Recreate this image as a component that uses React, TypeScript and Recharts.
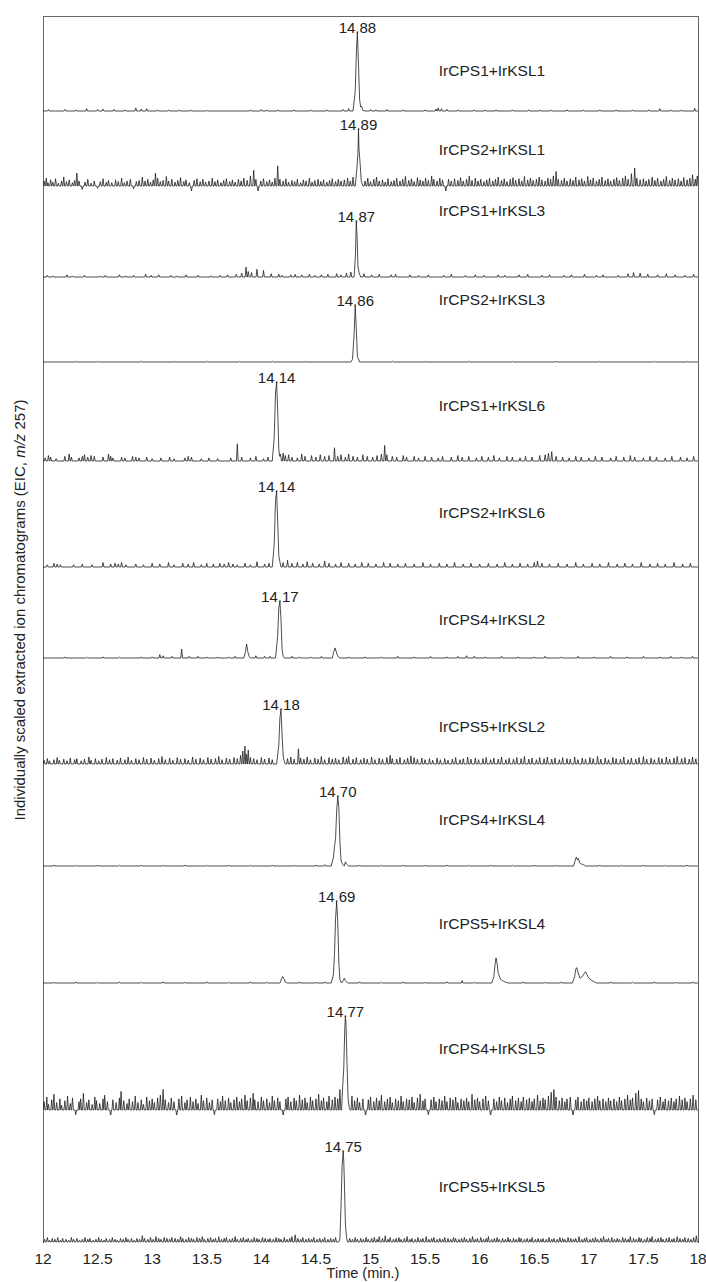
import React from "react";
import { LineChart, Line, XAxis, YAxis, ReferenceDot } from "recharts";

// ---- data (time in min, intensity in % of the labelled peak) ----
const PANEL_NAMES = [
  "IrCPS1+IrKSL1", "IrCPS2+IrKSL1", "IrCPS1+IrKSL3", "IrCPS2+IrKSL3",
  "IrCPS1+IrKSL6", "IrCPS2+IrKSL6", "IrCPS4+IrKSL2", "IrCPS5+IrKSL2",
  "IrCPS4+IrKSL4", "IrCPS5+IrKSL4", "IrCPS4+IrKSL5", "IrCPS5+IrKSL5",
];
const PEAK_TIMES = [14.88, 14.89, 14.87, 14.86, 14.14, 14.14, 14.17, 14.18, 14.7, 14.69, 14.77, 14.75];
const PEAK_LABELS = ["14.88", "14.89", "14.87", "14.86", "14.14", "14.14", "14.17", "14.18", "14.70", "14.69", "14.77", "14.75"];
const TIME_TICKS = [12, 12.5, 13, 13.5, 14, 14.5, 15, 15.5, 16, 16.5, 17, 17.5, 18];

// peak profiles [time, intensity]
const profile1 = [[14.84, 0], [14.86, 25], [14.872, 80], [14.88, 100], [14.89, 60], [14.9, 15], [14.91, 5], [14.92, 6], [14.93, 1], [14.95, 0]];
const profile2 = [[14.86, 0], [14.875, 30], [14.885, 60], [14.89, 100], [14.895, 65], [14.905, 40], [14.915, 10], [14.93, 0]];
const profile3 = [[14.85, 0], [14.862, 40], [14.87, 100], [14.878, 70], [14.885, 20], [14.895, 8], [14.91, 0]];
const profile4 = [[14.82, 0], [14.835, 5], [14.85, 50], [14.86, 100], [14.87, 60], [14.88, 10], [14.9, 0]];
const profile5 = [[14.1, 0], [14.118, 30], [14.13, 88], [14.14, 100], [14.15, 65], [14.16, 15], [14.168, 6], [14.175, 9], [14.185, 0]];
const profile6 = [[14.1, 0], [14.118, 30], [14.13, 90], [14.14, 100], [14.15, 60], [14.16, 15], [14.17, 7], [14.18, 0]];
const profile7 = [
  [13.84, 0], [13.855, 12], [13.865, 25], [13.875, 12], [13.89, 2], [13.9, 0],
  [14.13, 0], [14.15, 40], [14.16, 90], [14.17, 100], [14.18, 70], [14.19, 15], [14.2, 3], [14.21, 0],
  [14.65, 0], [14.665, 12], [14.675, 18], [14.685, 12], [14.695, 6], [14.705, 2], [14.72, 0],
];
const profile8 = [[14.14, 0], [14.16, 35], [14.17, 85], [14.18, 100], [14.19, 55], [14.2, 15], [14.21, 5], [14.22, 0]];
const profile9 = [
  [14.64, 0], [14.66, 12], [14.67, 28], [14.68, 40], [14.69, 80], [14.7, 100], [14.71, 85], [14.72, 35], [14.73, 8], [14.745, 2], [14.76, 0], [14.77, 6], [14.78, 3], [14.8, 0],
  [16.86, 0], [16.875, 8], [16.885, 13], [16.895, 9], [16.905, 11], [16.915, 5], [16.93, 3], [16.95, 2], [16.97, 0],
];
const profile10 = [
  [14.17, 0], [14.185, 5], [14.195, 8], [14.205, 6], [14.22, 1], [14.24, 0],
  [14.64, 0], [14.66, 10], [14.67, 35], [14.68, 80], [14.69, 100], [14.7, 75], [14.71, 25], [14.72, 4], [14.735, 0], [14.75, 3], [14.76, 6], [14.77, 3], [14.79, 0],
  [16.11, 0], [16.13, 8], [16.14, 22], [16.15, 31], [16.16, 24], [16.17, 12], [16.19, 5], [16.22, 2], [16.26, 0],
  [16.85, 0], [16.87, 8], [16.88, 17], [16.89, 19], [16.9, 13], [16.92, 6], [16.94, 8], [16.96, 12], [16.97, 14], [16.98, 11], [17.0, 6], [17.03, 3], [17.07, 0],
];
const profile11 = [[14.735, 0], [14.745, 25], [14.755, 45], [14.765, 90], [14.77, 100], [14.775, 95], [14.785, 50], [14.795, 12], [14.805, 3], [14.815, 0]];
const profile12 = [[14.71, 0], [14.72, 4], [14.73, 40], [14.74, 85], [14.75, 100], [14.755, 90], [14.76, 70], [14.77, 20], [14.78, 5], [14.79, 0]];

// baseline noise spikes [time, intensity]
const noise1 = [[12.05, 2], [12.2, 2], [12.3, 1.5], [12.4, 3], [12.5, 2], [12.55, 2.5], [12.65, 2], [12.75, 1.5], [12.85, 4], [12.9, 2.5], [12.95, 3], [13.05, 1.5], [13.15, 1.5], [13.25, 1.5], [13.35, 1.5], [13.5, 1], [13.9, 1.5], [14.0, 2], [14.05, 1.5], [14.15, 1.5], [14.3, 1.5], [14.45, 1.5], [14.6, 1.5], [14.75, 2], [14.8, 3], [15.0, 2], [15.05, 1.5], [15.15, 2], [15.3, 1.5], [15.5, 1.5], [15.6, 2.5], [15.62, 4], [15.65, 3], [15.7, 2], [15.8, 1.5], [15.95, 1.5], [16.05, 1.5], [16.15, 1.5], [16.3, 1.5], [16.45, 1.5], [16.55, 1.5], [16.65, 1.5], [16.8, 1.5], [16.95, 1.5], [17.1, 1.5], [17.25, 1.5], [17.4, 1.5], [17.55, 1.5], [17.65, 3], [17.75, 1.5], [17.85, 1.5], [17.97, 3.5]];
const noise2 = [[12.01, 9], [12.03, 14], [12.045, 6], [12.07, 11], [12.09, 7], [12.115, 13], [12.14, 5], [12.17, 9], [12.19, 16], [12.215, 8], [12.24, 11], [12.27, 6], [12.29, 10], [12.31, 23], [12.33, 9], [12.36, -6], [12.385, 7], [12.41, 12], [12.44, 5], [12.47, 9], [12.5, -4], [12.525, 8], [12.55, 13], [12.58, 7], [12.6, 10], [12.63, 6], [12.665, 11], [12.69, 8], [12.72, 14], [12.745, 6], [12.77, 9], [12.8, 12], [12.83, -5], [12.855, 8], [12.88, 10], [12.91, 16], [12.935, 9], [12.96, 12], [12.985, 7], [13.01, 11], [13.03, 23], [13.05, 14], [13.075, 8], [13.1, 10], [13.13, 17], [13.15, 9], [13.18, 12], [13.21, 7], [13.235, 10], [13.26, 15], [13.29, 8], [13.31, 11], [13.34, 6], [13.36, -9], [13.385, 10], [13.41, 13], [13.44, 8], [13.465, 12], [13.49, 7], [13.52, 9], [13.55, 14], [13.575, 8], [13.6, 11], [13.63, 6], [13.655, 10], [13.68, 13], [13.71, 8], [13.735, 11], [13.76, 7], [13.79, 12], [13.815, 9], [13.84, 14], [13.87, 10], [13.9, 18], [13.93, 28], [13.95, 12], [13.97, -11], [13.995, 9], [14.02, 13], [14.05, 8], [14.075, 11], [14.1, 7], [14.125, 14], [14.15, 36], [14.17, 12], [14.2, 9], [14.225, 13], [14.25, 7], [14.28, 10], [14.305, 8], [14.33, 12], [14.36, 6], [14.385, 11], [14.41, 9], [14.44, 14], [14.465, 7], [14.49, 10], [14.52, 12], [14.545, 8], [14.57, 11], [14.6, 7], [14.625, 10], [14.65, 13], [14.68, 8], [14.705, 12], [14.73, 9], [14.76, 11], [14.79, 14], [14.815, 9], [14.84, 16], [14.95, 9], [14.975, 14], [15.0, 8], [15.03, 12], [15.055, 16], [15.08, 9], [15.11, 11], [15.135, 7], [15.16, 13], [15.19, 8], [15.215, 10], [15.24, 14], [15.27, 9], [15.295, 12], [15.32, 17], [15.35, 10], [15.375, 13], [15.4, 8], [15.43, 15], [15.455, 11], [15.48, 9], [15.505, 14], [15.53, 10], [15.56, 18], [15.58, 12], [15.61, 9], [15.635, 14], [15.66, 11], [15.69, -9], [15.715, 12], [15.74, 9], [15.77, 13], [15.8, 10], [15.825, 15], [15.85, 9], [15.88, 12], [15.905, 18], [15.93, 10], [15.96, 14], [15.985, 9], [16.01, 12], [16.04, 8], [16.065, 11], [16.09, 14], [16.12, 9], [16.145, 12], [16.17, 16], [16.2, 10], [16.225, 13], [16.25, 8], [16.28, 12], [16.305, 15], [16.33, 10], [16.36, 13], [16.385, 9], [16.41, 17], [16.44, 11], [16.465, 14], [16.49, 10], [16.52, 12], [16.545, 16], [16.57, 11], [16.6, 9], [16.625, 14], [16.65, 12], [16.675, 18], [16.7, 26], [16.72, 12], [16.75, 10], [16.775, 14], [16.8, 9], [16.83, 13], [16.855, 10], [16.88, 16], [16.91, 11], [16.935, 13], [16.96, 9], [16.99, 17], [17.015, 11], [17.04, 14], [17.07, 9], [17.095, 12], [17.12, 16], [17.15, 10], [17.175, 13], [17.2, 9], [17.23, 12], [17.255, 15], [17.28, 10], [17.31, 14], [17.335, 18], [17.36, 12], [17.39, 22], [17.42, 32], [17.44, 14], [17.47, 11], [17.5, 13], [17.525, 9], [17.55, 12], [17.58, 16], [17.605, 10], [17.63, 14], [17.66, 9], [17.685, 12], [17.71, 17], [17.74, 10], [17.765, 14], [17.79, 11], [17.82, 13], [17.845, 9], [17.87, 15], [17.9, 11], [17.925, 14], [17.95, 20], [17.975, 12], [17.993, 18]];
const noise3 = [[12.04, 3], [12.09, 2], [12.22, 4], [12.27, 2], [12.38, 3], [12.52, 2], [12.57, 3], [12.7, 4], [12.76, 2], [12.83, 3], [12.94, 5], [12.99, 3], [13.06, 4], [13.17, 3], [13.23, 2], [13.31, 4], [13.42, 3], [13.54, 2], [13.62, 3], [13.69, 4], [13.77, 5], [13.82, 7], [13.86, 18], [13.88, 10], [13.91, 8], [13.96, 14], [14.02, 12], [14.09, 6], [14.16, 5], [14.19, 3], [14.27, 4], [14.31, 5], [14.37, 4], [14.44, 5], [14.49, 3], [14.55, 4], [14.61, 5], [14.69, 6], [14.73, 4], [14.78, 7], [14.82, 9], [14.94, 6], [15.01, 4], [15.08, 5], [15.19, 4], [15.23, 5], [15.36, 4], [15.44, 3], [15.53, 4], [15.67, 3], [15.74, 5], [15.87, 3], [15.96, 4], [16.04, 3], [16.17, 4], [16.23, 3], [16.36, 4], [16.44, 5], [16.57, 3], [16.64, 4], [16.77, 3], [16.84, 4], [16.96, 5], [17.07, 3], [17.13, 4], [17.27, 3], [17.36, 6], [17.41, 8], [17.47, 7], [17.54, 5], [17.63, 4], [17.71, 6], [17.79, 4], [17.88, 3], [17.96, 5]];
const noise4 = [[12.3, 1.5], [12.5, 1], [12.9, 1.5], [13.2, 1], [13.5, 1.5], [13.8, 1], [14.1, 1.5], [14.4, 1], [15.2, 1.5], [15.5, 1], [15.9, 1.5], [16.3, 1], [16.7, 1.5], [17.1, 1], [17.6, 1.5], [17.9, 1]];
const noise5 = [[12.02, 4], [12.05, 7], [12.07, 5], [12.12, 3], [12.2, 6], [12.24, 9], [12.26, 5], [12.33, 4], [12.36, 6], [12.38, 8], [12.41, 5], [12.44, 7], [12.47, 6], [12.55, 5], [12.6, 9], [12.62, 6], [12.64, 4], [12.72, 5], [12.75, 4], [12.82, 6], [12.85, 5], [12.88, 4], [12.95, 5], [13.0, 3], [13.08, 4], [13.16, 5], [13.2, 3], [13.3, 4], [13.33, 6], [13.36, 5], [13.45, 3], [13.52, 4], [13.6, 3], [13.72, 4], [13.78, 22], [13.82, 5], [13.9, 4], [13.95, 6], [14.02, 3], [14.06, 5], [14.2, 10], [14.22, 7], [14.25, 8], [14.28, 5], [14.33, 4], [14.37, 9], [14.4, 6], [14.46, 7], [14.5, 5], [14.54, 8], [14.58, 6], [14.62, 7], [14.67, 17], [14.7, 6], [14.73, 8], [14.77, 5], [14.8, 9], [14.84, 6], [14.88, 5], [14.93, 8], [14.97, 6], [15.02, 5], [15.06, 7], [15.1, 9], [15.13, 20], [15.15, 8], [15.2, 6], [15.24, 5], [15.3, 7], [15.33, 5], [15.4, 6], [15.44, 4], [15.5, 6], [15.56, 5], [15.62, 4], [15.66, 6], [15.74, 5], [15.8, 7], [15.84, 5], [15.9, 6], [15.97, 4], [16.02, 6], [16.08, 5], [16.13, 7], [16.18, 4], [16.25, 6], [16.3, 5], [16.37, 4], [16.42, 6], [16.48, 5], [16.55, 7], [16.6, 8], [16.63, 10], [16.66, 12], [16.7, 6], [16.76, 5], [16.82, 4], [16.88, 6], [16.93, 5], [17.0, 4], [17.06, 6], [17.12, 5], [17.2, 4], [17.25, 6], [17.32, 5], [17.38, 7], [17.42, 5], [17.5, 4], [17.56, 6], [17.62, 5], [17.7, 4], [17.76, 6], [17.84, 5], [17.9, 4], [17.96, 6]];
const noise6 = [[12.04, 3], [12.1, 5], [12.13, 4], [12.16, 3], [12.28, 3], [12.36, 4], [12.45, 3], [12.55, 6], [12.62, 4], [12.66, 5], [12.69, 4], [12.72, 6], [12.76, 3], [12.85, 4], [12.92, 3], [13.0, 5], [13.07, 4], [13.15, 6], [13.2, 3], [13.28, 5], [13.33, 4], [13.38, 6], [13.45, 3], [13.5, 5], [13.56, 4], [13.62, 5], [13.66, 4], [13.7, 6], [13.74, 4], [13.78, 3], [13.85, 5], [13.9, 3], [13.96, 7], [14.03, 4], [14.07, 5], [14.2, 6], [14.24, 9], [14.28, 5], [14.33, 6], [14.38, 4], [14.42, 7], [14.47, 5], [14.53, 4], [14.58, 8], [14.62, 5], [14.68, 4], [14.73, 6], [14.8, 5], [14.86, 4], [14.92, 6], [14.98, 5], [15.05, 4], [15.12, 6], [15.18, 5], [15.25, 4], [15.32, 5], [15.4, 4], [15.48, 6], [15.55, 4], [15.63, 5], [15.7, 4], [15.77, 6], [15.85, 4], [15.92, 5], [16.0, 4], [16.08, 5], [16.16, 4], [16.23, 6], [16.3, 4], [16.37, 5], [16.44, 4], [16.5, 6], [16.53, 8], [16.57, 5], [16.64, 4], [16.72, 5], [16.8, 4], [16.88, 6], [16.95, 4], [17.03, 5], [17.1, 4], [17.18, 6], [17.26, 4], [17.33, 5], [17.4, 4], [17.48, 6], [17.56, 4], [17.63, 5], [17.7, 4], [17.78, 6], [17.86, 4], [17.93, 5]];
const noise7 = [[12.2, 2], [12.4, 1.5], [12.55, 2], [12.7, 1.5], [12.9, 2], [13.0, 2], [13.07, 6], [13.1, 4], [13.18, 3], [13.27, 16], [13.34, 3], [13.42, 3], [13.5, 2], [13.6, 2], [13.7, 2], [13.76, 3], [13.95, 4], [14.03, 3], [14.08, 3], [14.28, 3], [14.35, 2], [14.45, 2], [14.55, 3], [14.8, 2], [14.95, 2], [15.1, 2], [15.25, 3], [15.4, 2], [15.55, 3], [15.7, 2], [15.8, 3], [15.88, 4], [15.95, 3], [16.05, 2], [16.2, 3], [16.35, 2], [16.5, 2], [16.6, 3], [16.75, 2], [16.9, 3], [17.05, 2], [17.2, 3], [17.35, 2], [17.5, 3], [17.65, 2], [17.75, 3], [17.85, 2], [17.95, 3]];
const noise8 = [[12.01, 7], [12.04, 10], [12.06, 6], [12.1, 8], [12.13, 12], [12.15, 7], [12.19, 9], [12.22, 6], [12.25, 11], [12.29, 8], [12.31, 10], [12.35, 6], [12.38, 9], [12.42, 13], [12.44, 7], [12.48, 10], [12.51, 6], [12.54, 9], [12.58, 12], [12.61, 8], [12.64, 10], [12.68, 7], [12.71, 11], [12.75, 8], [12.78, 13], [12.81, 7], [12.85, 10], [12.88, 8], [12.92, 12], [12.95, 9], [12.99, 11], [13.02, 7], [13.06, 10], [13.09, 14], [13.12, 8], [13.16, 11], [13.19, 7], [13.23, 12], [13.26, 9], [13.3, 10], [13.33, 7], [13.37, 13], [13.4, 9], [13.44, 11], [13.47, 8], [13.51, 12], [13.54, 9], [13.58, 10], [13.61, 14], [13.64, 8], [13.68, 11], [13.71, 9], [13.75, 12], [13.78, 10], [13.81, 16], [13.83, 24], [13.85, 33], [13.865, 18], [13.88, 26], [13.9, 12], [13.93, 10], [13.96, 8], [14.0, 12], [14.03, 9], [14.07, 11], [14.1, 8], [14.24, 10], [14.27, 13], [14.3, 9], [14.34, 28], [14.36, 11], [14.39, 9], [14.42, 13], [14.45, 8], [14.49, 11], [14.52, 9], [14.55, 14], [14.58, 8], [14.62, 12], [14.65, 9], [14.68, 11], [14.71, 8], [14.75, 13], [14.78, 10], [14.8, 14], [14.84, 9], [14.87, 12], [14.91, 8], [14.94, 11], [14.97, 9], [15.01, 13], [15.04, 8], [15.08, 11], [15.11, 9], [15.15, 12], [15.18, 16], [15.2, 10], [15.24, 9], [15.27, 12], [15.31, 8], [15.34, 11], [15.37, 15], [15.4, 12], [15.43, 9], [15.47, 11], [15.5, 8], [15.54, 10], [15.57, 7], [15.61, 11], [15.64, 8], [15.68, 10], [15.71, 7], [15.75, 9], [15.78, 12], [15.82, 8], [15.85, 10], [15.89, 13], [15.92, 9], [15.96, 11], [15.99, 8], [16.03, 10], [16.06, 12], [16.1, 8], [16.13, 11], [16.17, 9], [16.2, 13], [16.24, 8], [16.27, 11], [16.31, 9], [16.34, 12], [16.38, 10], [16.41, 14], [16.45, 9], [16.48, 11], [16.52, 8], [16.55, 12], [16.59, 10], [16.62, 13], [16.66, 9], [16.69, 11], [16.73, 8], [16.76, 12], [16.8, 10], [16.83, 9], [16.87, 13], [16.9, 8], [16.94, 11], [16.97, 9], [17.01, 12], [17.04, 10], [17.08, 14], [17.11, 9], [17.15, 11], [17.18, 8], [17.22, 12], [17.25, 10], [17.29, 9], [17.32, 13], [17.36, 8], [17.39, 11], [17.43, 9], [17.46, 12], [17.5, 14], [17.53, 9], [17.57, 11], [17.6, 8], [17.64, 12], [17.67, 10], [17.71, 13], [17.74, 9], [17.78, 11], [17.81, 14], [17.85, 10], [17.88, 12], [17.92, 9], [17.95, 13], [17.98, 10]];
const noise9 = [[12.1, 1.5], [12.3, 1], [12.5, 1.5], [12.7, 1], [12.9, 1.5], [13.1, 1], [13.3, 1.5], [13.5, 1], [13.7, 1.5], [13.9, 1], [14.1, 1.5], [14.3, 1], [14.5, 1.5], [14.58, 2], [14.9, 1.5], [15.1, 1], [15.3, 1.5], [15.5, 1], [15.7, 1.5], [15.9, 1], [16.1, 1.5], [16.3, 1], [16.5, 1.5], [16.7, 1], [17.1, 1.5], [17.3, 1], [17.5, 1.5], [17.7, 1], [17.9, 1.5]];
const noise10 = [[12.1, 1], [12.3, 1.5], [12.5, 1], [12.7, 1.5], [12.9, 1], [13.1, 1.5], [13.3, 1], [13.5, 1.5], [13.7, 1], [13.9, 1.5], [14.05, 1], [14.35, 1.5], [14.5, 1], [14.58, 1.5], [14.9, 1.5], [15.1, 1], [15.3, 1.5], [15.5, 1], [15.7, 1.5], [15.84, 3], [15.95, 1], [16.4, 1.5], [16.6, 1], [16.75, 1.5], [17.2, 1.5], [17.4, 1], [17.6, 1.5], [17.8, 1], [17.95, 1.5]];
const noise11 = [[12.01, 9], [12.035, 14], [12.05, 6], [12.08, 11], [12.1, 17], [12.125, 8], [12.155, 12], [12.17, 5], [12.2, 10], [12.225, 15], [12.25, 7], [12.27, 13], [12.3, -5], [12.33, 9], [12.345, 12], [12.37, 18], [12.4, 8], [12.42, 11], [12.45, 6], [12.475, 14], [12.49, 10], [12.52, 7], [12.55, 12], [12.565, 16], [12.59, 9], [12.62, -6], [12.64, 11], [12.67, 8], [12.7, 13], [12.715, 20], [12.74, 10], [12.77, 7], [12.79, 12], [12.82, 9], [12.845, 15], [12.87, 8], [12.9, 11], [12.92, 6], [12.95, 14], [12.975, 10], [13.0, 12], [13.02, 8], [13.05, 13], [13.075, 16], [13.1, 22], [13.12, 11], [13.15, 8], [13.175, 13], [13.2, 9], [13.225, -6], [13.245, 12], [13.27, 15], [13.3, 8], [13.32, 11], [13.35, 14], [13.375, 9], [13.4, 12], [13.42, 7], [13.45, 16], [13.47, 10], [13.5, 13], [13.525, 8], [13.55, 11], [13.57, -5], [13.6, 12], [13.625, 9], [13.645, 15], [13.67, 10], [13.7, 13], [13.72, 8], [13.75, 11], [13.775, 14], [13.8, 9], [13.82, 12], [13.85, 16], [13.87, 10], [13.9, 13], [13.925, 18], [13.94, 11], [13.97, 9], [14.0, 14], [14.02, 10], [14.05, 12], [14.075, 8], [14.1, 15], [14.12, 10], [14.15, 13], [14.17, 9], [14.2, -6], [14.225, 12], [14.245, 14], [14.27, 9], [14.3, 13], [14.32, 10], [14.35, 16], [14.375, 11], [14.4, 13], [14.42, 8], [14.45, 14], [14.47, 10], [14.5, 12], [14.525, 17], [14.55, 10], [14.57, 13], [14.6, 9], [14.62, 15], [14.65, 11], [14.675, 14], [14.7, 12], [14.72, 22], [14.83, 15], [14.855, 10], [14.88, 13], [14.9, 8], [14.93, 12], [14.955, -6], [14.98, 11], [15.0, 14], [15.03, 9], [15.055, 13], [15.08, 10], [15.1, 16], [15.13, 9], [15.155, 12], [15.18, 14], [15.2, 8], [15.23, 12], [15.255, 10], [15.28, 15], [15.3, 9], [15.33, 12], [15.355, 11], [15.38, 14], [15.4, 8], [15.43, 13], [15.455, 17], [15.48, 10], [15.5, 12], [15.53, -5], [15.555, 11], [15.58, 14], [15.6, 9], [15.63, 12], [15.655, 10], [15.68, 15], [15.7, 9], [15.73, 13], [15.755, 11], [15.78, 14], [15.8, 8], [15.83, 12], [15.855, 10], [15.88, 13], [15.9, 9], [15.93, 17], [15.955, 11], [15.98, 13], [16.0, 9], [16.03, 12], [16.055, 15], [16.08, 10], [16.1, -6], [16.13, 12], [16.155, 9], [16.18, 14], [16.2, 10], [16.23, 13], [16.255, 8], [16.28, 12], [16.3, 15], [16.33, 10], [16.355, 13], [16.38, 9], [16.4, 14], [16.43, 11], [16.455, 13], [16.48, 9], [16.5, 12], [16.53, 16], [16.555, 10], [16.58, 13], [16.6, 11], [16.63, 15], [16.655, 19], [16.68, 22], [16.7, 14], [16.73, 10], [16.755, 13], [16.78, 9], [16.8, 12], [16.83, 14], [16.855, -6], [16.88, 11], [16.9, 14], [16.93, 9], [16.955, 12], [16.98, 10], [17.0, 13], [17.03, 9], [17.055, 12], [17.08, 15], [17.1, 10], [17.13, 12], [17.155, 9], [17.18, 13], [17.2, 10], [17.23, 12], [17.255, 9], [17.28, 14], [17.3, 10], [17.33, 12], [17.355, 16], [17.38, 11], [17.4, 13], [17.43, 18], [17.455, 21], [17.48, 12], [17.5, 9], [17.53, 13], [17.555, 10], [17.58, 12], [17.6, -5], [17.63, 11], [17.655, 14], [17.68, 9], [17.7, 12], [17.73, 10], [17.755, 13], [17.78, 9], [17.8, 12], [17.83, 15], [17.855, 11], [17.88, 13], [17.9, 9], [17.93, 12], [17.955, 16], [17.98, 11]];
const noise12 = [[12.015, 3], [12.04, 5], [12.06, 2], [12.085, 4], [12.11, 3], [12.135, 5], [12.16, 2], [12.18, 4], [12.21, 3], [12.235, 2], [12.26, 5], [12.28, 3], [12.31, 4], [12.335, 2], [12.36, 3], [12.385, 5], [12.41, 3], [12.43, 4], [12.46, 2], [12.485, 3], [12.51, 5], [12.535, 3], [12.56, 2], [12.58, 4], [12.61, 3], [12.635, 5], [12.66, 3], [12.68, 2], [12.71, 4], [12.735, 3], [12.76, 5], [12.78, 3], [12.81, 4], [12.835, 2], [12.86, 4], [12.885, 3], [12.91, 7], [12.93, 4], [12.96, 3], [12.985, 5], [13.01, 3], [13.035, 6], [13.06, 4], [13.08, 3], [13.11, 5], [13.135, 4], [13.16, 3], [13.18, 5], [13.21, 4], [13.235, 3], [13.26, 6], [13.28, 4], [13.31, 3], [13.335, 5], [13.36, 4], [13.38, 3], [13.41, 5], [13.435, 4], [13.46, 6], [13.48, 3], [13.51, 4], [13.535, 5], [13.56, 3], [13.58, 4], [13.61, 6], [13.635, 3], [13.66, 4], [13.68, 5], [13.71, 3], [13.735, 4], [13.76, 6], [13.78, 3], [13.81, 4], [13.835, 5], [13.86, 3], [13.88, 4], [13.91, 3], [13.935, 5], [13.96, 4], [13.98, 3], [14.01, 5], [14.035, 4], [14.06, 3], [14.08, 4], [14.11, 3], [14.135, 5], [14.16, 4], [14.18, 3], [14.21, 5], [14.235, 3], [14.26, 4], [14.28, 6], [14.31, 8], [14.335, 4], [14.36, 3], [14.38, 5], [14.41, 3], [14.435, 4], [14.46, 3], [14.48, 5], [14.51, 3], [14.535, 4], [14.56, 3], [14.58, 5], [14.61, 3], [14.635, 4], [14.66, 3], [14.68, 5], [14.81, 4], [14.835, 3], [14.86, 5], [14.88, 3], [14.91, 4], [14.935, 3], [14.96, 5], [14.98, 3], [15.01, 4], [15.035, 5], [15.06, 3], [15.08, 6], [15.11, 4], [15.135, 7], [15.16, 3], [15.18, 5], [15.21, 3], [15.235, 4], [15.26, 5], [15.28, 3], [15.31, 4], [15.335, 6], [15.36, 3], [15.38, 4], [15.41, 3], [15.435, 5], [15.46, 3], [15.48, 4], [15.51, 6], [15.535, 3], [15.56, 4], [15.58, 5], [15.61, 3], [15.635, 4], [15.66, 3], [15.68, 5], [15.71, 4], [15.735, 3], [15.76, 5], [15.78, 4], [15.81, 3], [15.835, 4], [15.86, 5], [15.88, 3], [15.91, 4], [15.935, 6], [15.96, 3], [15.98, 4], [16.01, 5], [16.035, 3], [16.06, 4], [16.08, 6], [16.11, 3], [16.135, 4], [16.16, 5], [16.18, 3], [16.21, 4], [16.235, 3], [16.26, 5], [16.28, 3], [16.31, 4], [16.335, 3], [16.36, 5], [16.38, 4], [16.41, 3], [16.435, 4], [16.46, 3], [16.48, 5], [16.51, 3], [16.535, 4], [16.56, 3], [16.58, 4], [16.61, 3], [16.635, 5], [16.66, 3], [16.68, 4], [16.71, 3], [16.735, 5], [16.76, 4], [16.78, 3], [16.81, 5], [16.835, 4], [16.86, 3], [16.88, 4], [16.91, 6], [16.935, 3], [16.96, 4], [16.98, 5], [17.01, 3], [17.035, 4], [17.06, 5], [17.08, 3], [17.11, 4], [17.135, 6], [17.16, 3], [17.18, 4], [17.21, 5], [17.235, 3], [17.26, 4], [17.28, 3], [17.31, 5], [17.335, 4], [17.36, 3], [17.38, 6], [17.41, 4], [17.435, 3], [17.46, 5], [17.48, 4], [17.51, 3], [17.535, 5], [17.56, 4], [17.58, 6], [17.61, 3], [17.635, 4], [17.66, 5], [17.68, 3], [17.71, 4], [17.735, 5], [17.76, 3], [17.78, 4], [17.81, 6], [17.835, 4], [17.86, 3], [17.88, 5], [17.91, 4], [17.935, 3], [17.96, 5], [17.985, 7]];

const PROFILES = [profile1, profile2, profile3, profile4, profile5, profile6, profile7, profile8, profile9, profile10, profile11, profile12];
const NOISE = [noise1, noise2, noise3, noise4, noise5, noise6, noise7, noise8, noise9, noise10, noise11, noise12];

// ---- layout (page pixels) ----
const FRAME_TOP = 16;
const PLOT_LEFT = 43;
const PLOT_RIGHT = 698;
const SIDE = 20;
const PAD = 5;
const BASELINES = [111, 186, 277, 362, 461, 567, 658, 764, 866, 983, 1110, 1242];
const PEAK_PX = [78, 56, 55, 56, 78, 75, 56, 54, 69, 81, 93, 90];
const NAME_Y = [71, 150, 211, 300, 406, 513, 620, 727, 820, 924, 1049, 1187];
const NAME_X = 492;
const AXIS_H = 40;
const FONT = "'Liberation Sans', Arial, sans-serif";
const INK = "#222";

const buildTrace = (noise: number[][], profile: number[][]) => {
  const pts: { t: number; v: number }[] = [{ t: 12, v: 0 }, { t: 18, v: 0 }];
  noise.forEach(([t, h]) => {
    pts.push({ t: t - 0.008, v: 0 }, { t, v: h }, { t: t + 0.008, v: 0 });
  });
  profile.forEach(([t, v]) => pts.push({ t, v }));
  return pts.sort((a, b) => a.t - b.t);
};

const Panel = ({ i }: { i: number }) => {
  const top = i === 0 ? FRAME_TOP : BASELINES[i - 1];
  const h = BASELINES[i] - top;
  const upx = 100 / PEAK_PX[i];
  const last = i === BASELINES.length - 1;
  const data = buildTrace(NOISE[i], PROFILES[i]);
  const width = PLOT_RIGHT - PLOT_LEFT + SIDE * 2;
  return (
    <div style={{ position: "absolute", left: PLOT_LEFT - SIDE, top }}>
      <LineChart
        width={width}
        height={h + PAD + (last ? AXIS_H : 0)}
        data={data}
        margin={{ top: 0, right: SIDE, bottom: 0, left: SIDE }}
      >
        <XAxis
          type="number"
          dataKey="t"
          domain={[12, 18]}
          allowDataOverflow
          ticks={TIME_TICKS}
          hide={!last}
          height={AXIS_H}
          axisLine={false}
          tickLine={false}
          tickSize={4}
          tickMargin={2}
          interval={0}
          tick={{ fontSize: 15.5, fill: INK, fontFamily: FONT }}
        />
        <YAxis hide type="number" domain={[-PAD * upx, h * upx]} allowDataOverflow />
        <Line
          dataKey="v"
          type="linear"
          stroke="#1f1f1f"
          strokeWidth={0.8}
          dot={false}
          isAnimationActive={false}
        />
        <ReferenceDot
          x={PEAK_TIMES[i]}
          y={100}
          r={1}
          fill="none"
          stroke="none"
          label={{ value: PEAK_LABELS[i], position: "top", offset: -1, fontSize: 15, fill: INK, fontFamily: FONT }}
        />
      </LineChart>
    </div>
  );
};

export default function App() {
  return (
    <div style={{ position: "absolute", left: 0, top: 0, width: 706, height: 1282, background: "#fff", fontFamily: FONT, color: INK }}>
      <div
        style={{
          position: "absolute",
          left: PLOT_LEFT,
          top: FRAME_TOP,
          width: PLOT_RIGHT - PLOT_LEFT - 1,
          height: BASELINES[BASELINES.length - 1] - FRAME_TOP,
          borderLeft: "1px solid #666",
          borderTop: "1px solid #666",
          borderRight: "1px solid #666",
        }}
      />
      {PANEL_NAMES.map((_, i) => (
        <Panel key={i} i={i} />
      ))}
      {PANEL_NAMES.map((name, i) => (
        <div
          key={name + i}
          style={{ position: "absolute", left: NAME_X, top: NAME_Y[i], transform: "translate(-50%, -50%)", fontSize: 15.5, whiteSpace: "nowrap" }}
        >
          {name}
        </div>
      ))}
      <div style={{ position: "absolute", left: 363, top: 1273, transform: "translate(-50%, -50%)", fontSize: 14.5, whiteSpace: "nowrap" }}>
        Time (min.)
      </div>
      <div
        style={{
          position: "absolute",
          left: 19,
          top: 610,
          transform: "translate(-50%, -50%) rotate(-90deg)",
          fontSize: 15,
          whiteSpace: "nowrap",
        }}
      >
        Individually scaled extracted ion chromatograms (EIC, <i>m/z</i> 257)
      </div>
    </div>
  );
}
